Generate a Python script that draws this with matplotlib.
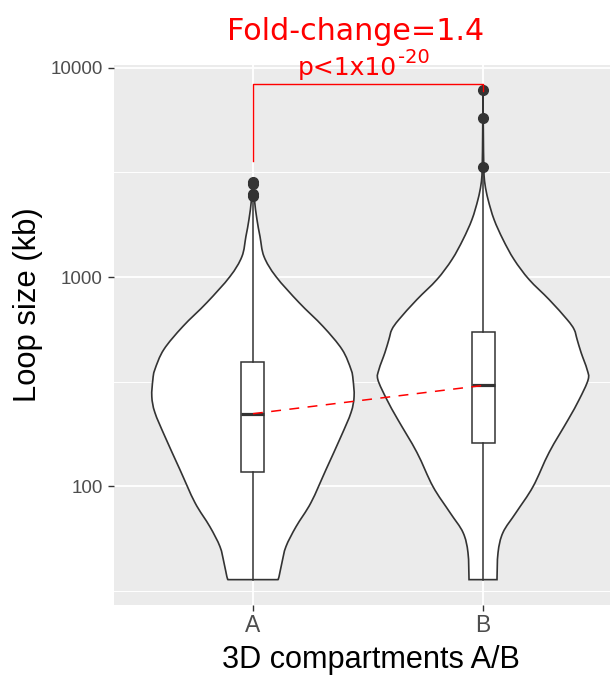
#!/usr/bin/env python3

"""Loop size distribution per 3D compartment: violins with boxplots on a log axis."""

import matplotlib as mpl

mpl.use("Agg")

import matplotlib.pyplot as plt
import numpy as np
from matplotlib.patches import PathPatch
from matplotlib.path import Path
from matplotlib.ticker import FixedLocator, NullFormatter

# Compartment labels
groups = ["A", "B"]

# Violin outlines: loop size (kb) and relative density (1 = widest violin)
a_sizes = [35.7, 36.9, 43.1, 51.4, 64.0, 83.4, 120, 173, 225, 268, 323,
           361, 450, 580, 755, 1005, 1253, 1563, 1884, 2348, 2866]
a_density = [0.238, 0.248, 0.276, 0.314, 0.41, 0.552, 0.695, 0.838, 0.933,
             0.962, 0.952, 0.933, 0.848, 0.667, 0.438, 0.219, 0.105, 0.067,
             0.038, 0.014, 0.005]

b_sizes = [35.7, 48.1, 60.0, 74.7, 99.5, 145, 208, 259, 323, 361, 435, 503,
           561, 626, 780, 973, 1213, 1512, 1884, 2348, 2774, 3268, 5080, 7890]
b_density = [0.133, 0.143, 0.19, 0.314, 0.476, 0.629, 0.81, 0.914, 1.0, 0.99,
             0.933, 0.895, 0.867, 0.8, 0.629, 0.438, 0.295, 0.19, 0.105,
             0.048, 0.019, 0.008, 0.003, 0.0]

# Boxplot summaries (kb)
q1 = [117, 161]
median = [222, 303]
q3 = [394, 548]
whisker_low = [35.7, 35.7]
whisker_high = [2350, 3200]
outliers = [[2850, 2780, 2500, 2430], [7850, 5770, 3360]]

# Significance bracket (kb)
bracket_top = 8340
bracket_left_end = 3573
bracket_right_end = 7730
fold_change = median[1] / median[0]

DARK = "#333333"
RED = "#FF0000"
VIOLIN_HALF = 0.457


def smooth_outline(xs, ys):
    """Closed Catmull-Rom outline through (x, log10 y) points as a Path."""
    pts = np.column_stack([xs, np.log10(ys)])
    padded = np.vstack([pts[0], pts, pts[-1]])
    verts = [pts[0]]
    codes = [Path.MOVETO]
    for i in range(1, len(padded) - 2):
        p0, p1, p2, p3 = padded[i - 1], padded[i], padded[i + 1], padded[i + 2]
        verts += [p1 + (p2 - p0) / 6.0, p2 - (p3 - p1) / 6.0, p2]
        codes += [Path.CURVE4] * 3
    verts.append(pts[0])
    codes.append(Path.CLOSEPOLY)
    verts = np.array(verts)
    verts[:, 1] = 10 ** verts[:, 1]
    return Path(verts, codes)


def main():
    """Entry point."""
    fig = plt.figure(figsize=(6.1, 6.77), dpi=100)
    ax = fig.add_axes([114 / 610, 1 - 605 / 677, 496 / 610, 540 / 677])
    ax.set_facecolor("#EBEBEB")
    for spine in ax.spines.values():
        spine.set_visible(False)

    positions = [1, 2]
    outlines = [(a_sizes, a_density), (b_sizes, b_density)]
    for pos, (sizes, dens) in zip(positions, outlines):
        hw = VIOLIN_HALF * np.asarray(dens)
        ys = np.asarray(sizes, dtype=float)
        # up the left side, down the right side
        xs = np.concatenate([pos - hw, (pos + hw)[::-1]])
        yy = np.concatenate([ys, ys[::-1]])
        ax.add_patch(PathPatch(smooth_outline(xs, yy), facecolor="white",
                               edgecolor=DARK, lw=1.2, zorder=2))

    stats = []
    for i in range(len(groups)):
        stats.append(dict(med=median[i], q1=q1[i], q3=q3[i],
                          whislo=whisker_low[i], whishi=whisker_high[i],
                          fliers=outliers[i]))
    ax.bxp(stats, positions=positions, widths=0.1, patch_artist=True,
           showcaps=False, manage_ticks=False,
           boxprops=dict(facecolor="white", edgecolor=DARK, lw=1.1),
           whiskerprops=dict(color=DARK, lw=1.1),
           medianprops=dict(color=DARK, lw=2.3, solid_capstyle="butt"),
           flierprops=dict(marker="o", mfc=DARK, mec=DARK, ms=7),
           zorder=3)

    # Median-to-median trend line
    ax.plot(positions, median, color=RED, lw=1.1, ls=(0, (6.5, 5.5)), zorder=4)

    # Bracket between groups
    ax.plot([1, 1, 2, 2],
            [bracket_left_end, bracket_top, bracket_top, bracket_right_end],
            color=RED, lw=1.0, zorder=4, clip_on=False)

    fig.text(356 / 610, 1 - 40 / 677, f"Fold-change={fold_change:.1f}",
             color=RED, fontsize=21.7, ha="center", va="baseline",
             family="DejaVu Sans")
    fig.text(298 / 610, 1 - 75 / 677, "p<1x10", color=RED, fontsize=18,
             ha="left", va="baseline", family="DejaVu Sans")
    fig.text(398 / 610, 1 - 63 / 677, "-20", color=RED, fontsize=14,
             ha="left", va="baseline", family="DejaVu Sans")

    ax.set_yscale("log")
    ax.set_ylim(27.0, 10330)
    ax.set_xlim(0.396, 2.552)
    ax.set_yticks([100, 1000, 10000])
    ax.set_yticklabels(["100", "1000", "10000"])
    ax.yaxis.set_minor_locator(FixedLocator([10 ** 1.5, 10 ** 2.5, 10 ** 3.5]))
    ax.yaxis.set_minor_formatter(NullFormatter())
    ax.set_xticks(positions)
    ax.set_xticklabels(groups)

    ax.grid(which="major", color="white", lw=1.3, zorder=0)
    ax.grid(which="minor", axis="y", color="white", lw=0.7, zorder=0)
    ax.set_axisbelow(True)

    ax.tick_params(which="major", length=4, width=1.0, color=DARK, pad=4)
    ax.tick_params(which="minor", length=0)
    ax.tick_params(axis="y", labelsize=13.5, labelcolor="#4D4D4D")
    ax.tick_params(axis="x", labelsize=16.5, labelcolor="#4D4D4D", pad=2.5)
    for lab in ax.get_xticklabels() + ax.get_yticklabels():
        lab.set_family("Liberation Sans")

    ax.set_ylabel("Loop size (kb)", fontsize=22.3, family="Liberation Sans")
    ax.yaxis.label.set_ha("center")
    ax.yaxis.label.set_va("center")
    ax.yaxis.set_label_coords((28 - 114) / 496, (605 - 305) / 540)
    ax.set_xlabel("3D compartments A/B", fontsize=22.1,
                  family="Liberation Sans")
    ax.xaxis.label.set_va("center")
    ax.xaxis.set_label_coords((371 - 114) / 496, (605 - 660) / 540)

    fig.savefig("out.png", dpi=100)


if __name__ == "__main__":
    main()
